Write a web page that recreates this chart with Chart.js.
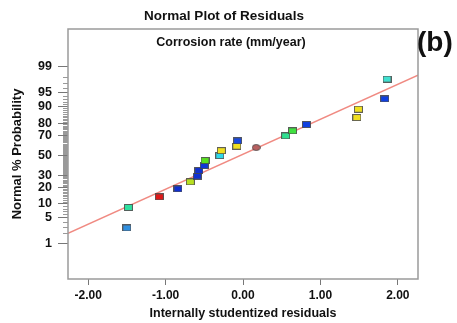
<!DOCTYPE html>
<html>
<head>
<meta charset="utf-8">
<script src="https://cdn.jsdelivr.net/npm/chart.js@4.4.0/dist/chart.umd.min.js"></script>
<style>
  body { margin: 0; background: #fff; }
  #wrap { position: relative; width: 457px; height: 323px; }
  #tag { position: absolute; left: 417px; top: 28px; font: bold 28px "Liberation Sans", Arial, sans-serif; color: #111; line-height: 1; }
</style>
</head>
<body>
<div id="wrap">
  <canvas id="chart" width="457" height="323"></canvas>
  <div id="tag">(b)</div>
</div>
<script>
// residuals (x) and normal probability in % (y)
const residuals = [-1.50, -1.48, -1.08, -0.84, -0.68, -0.59, -0.57, -0.50, -0.49, -0.30, -0.28, -0.08, -0.07, 0.17, 0.55, 0.64, 0.82, 1.47, 1.49, 1.83, 1.86];
const probability = [2.8, 8.5, 13.7, 18.8, 24.2, 29.1, 34.3, 39.2, 44.4, 49.5, 54.7, 59.3, 64.6, 57.9, 69.4, 73.8, 78.9, 83.8, 88.6, 93.0, 97.7];
const pointColors = ["#2f8fe0", "#30e0a0", "#e01818", "#1030d0", "#b8e020", "#1030d0", "#1030d0", "#1036d8", "#58e020", "#30d8e8", "#f0e020", "#f0e020", "#1848e0", "#b86060", "#30e090", "#40e040", "#1040e0", "#f0e020", "#f0e020", "#1040e0", "#40e0d0"];
const roundPoint = 13; // the brown one is an ellipse

// fitted normal line
const lineX = [-2.26, 2.26];
const lineP = [2.0, 98.2];

const yTickLabels = [1, 5, 10, 20, 30, 50, 70, 80, 90, 95, 99];
const xTickValues = [-2, -1, 0, 1, 2];

// inverse normal cdf (Acklam), used as the probability scale
function probit(p) {
  const a = [-3.969683028665376e+01, 2.209460984245205e+02, -2.759285104469687e+02, 1.383577518672690e+02, -3.066479806614716e+01, 2.506628277459239e+00];
  const b = [-5.447609879822406e+01, 1.615858368580409e+02, -1.556989798598866e+02, 6.680131188771972e+01, -1.328068155288572e+01];
  const c = [-7.784894002430293e-03, -3.223964580411365e-01, -2.400758277161838e+00, -2.549732539343734e+00, 4.374664141464968e+00, 2.938163982698783e+00];
  const d = [7.784695709041462e-03, 3.224671290700398e-01, 2.445134137142996e+00, 3.754408661907416e+00];
  const pl = 0.02425;
  let q, r;
  if (p < pl) {
    q = Math.sqrt(-2 * Math.log(p));
    return (((((c[0]*q+c[1])*q+c[2])*q+c[3])*q+c[4])*q+c[5]) / ((((d[0]*q+d[1])*q+d[2])*q+d[3])*q+1);
  }
  if (p > 1 - pl) {
    q = Math.sqrt(-2 * Math.log(1 - p));
    return -(((((c[0]*q+c[1])*q+c[2])*q+c[3])*q+c[4])*q+c[5]) / ((((d[0]*q+d[1])*q+d[2])*q+d[3])*q+1);
  }
  q = p - 0.5; r = q * q;
  return (((((a[0]*r+a[1])*r+a[2])*r+a[3])*r+a[4])*r+a[5])*q / (((((b[0]*r+b[1])*r+b[2])*r+b[3])*r+b[4])*r+1);
}

function marker(color, round) {
  const cv = document.createElement("canvas");
  cv.width = 9; cv.height = 7;
  const g = cv.getContext("2d");
  g.fillStyle = color;
  g.strokeStyle = "rgba(70,70,70,0.85)";
  g.lineWidth = 1;
  if (round) {
    g.beginPath();
    g.ellipse(4.5, 3.5, 4, 3, 0, 0, Math.PI * 2);
    g.fill(); g.stroke();
  } else {
    g.fillRect(0.5, 0.5, 8, 6);
    g.strokeRect(0.5, 0.5, 8, 6);
  }
  return cv;
}

const pts = residuals.map((x, i) => ({ x: x, y: probit(probability[i] / 100) }));
const styles = pointColors.map((c, i) => marker(c, i === roundPoint));
const linePts = lineX.map((x, i) => ({ x: x, y: probit(lineP[i] / 100) }));

const FONT = "'Liberation Sans', Arial, sans-serif";
const minorP = [];
for (let p = 1; p <= 99; p++) if (!yTickLabels.includes(p)) minorP.push(p);

const extras = {
  id: "extras",
  afterDraw(chart) {
    const ctx = chart.ctx, a = chart.chartArea, ys = chart.scales.y;
    ctx.save();
    // minor probability ticks
    ctx.strokeStyle = "#999";
    ctx.lineWidth = 1;
    ctx.beginPath();
    minorP.forEach((p) => {
      const y = Math.round(ys.getPixelForValue(probit(p / 100))) + 0.5;
      ctx.moveTo(a.left - 5, y);
      ctx.lineTo(a.left, y);
    });
    ctx.stroke();
    // frame
    ctx.strokeStyle = "#9a9a9a";
    ctx.lineWidth = 1.5;
    ctx.strokeRect(a.left, a.top, a.right - a.left, a.bottom - a.top);
    // inner heading
    ctx.fillStyle = "#111";
    ctx.font = "bold 12.5px " + FONT;
    ctx.textAlign = "center";
    ctx.textBaseline = "middle";
    ctx.fillText("Corrosion rate (mm/year)", (a.left + a.right) / 2 - 12, a.top + 14);
    ctx.restore();
  }
};

new Chart(document.getElementById("chart"), {
  type: "scatter",
  data: {
    datasets: [
      {
        data: pts,
        pointStyle: styles,
        pointRadius: 4,
        pointHoverRadius: 4,
      },
      {
        data: linePts,
        showLine: true,
        borderColor: "#f08a82",
        borderWidth: 1.5,
        pointRadius: 0,
      },
    ],
  },
  options: {
    responsive: false,
    animation: false,
    layout: { padding: { left: 0, right: 9, top: 0, bottom: 0 } },
    plugins: {
      legend: { display: false },
      tooltip: { enabled: false },
      title: {
        display: true,
        text: "Normal Plot of Residuals",
        color: "#111",
        font: { family: FONT, size: 13.5, weight: "bold" },
        padding: { top: 8, bottom: 4.8 },
      },
    },
    scales: {
      x: {
        type: "linear",
        min: -2.26,
        max: 2.26,
        afterBuildTicks: (s) => { s.ticks = xTickValues.map((v) => ({ value: v })); },
        afterFit: (s) => { s.height = 44; },
        grid: { drawOnChartArea: false, drawTicks: true, tickLength: 6, color: "#777" },
        border: { display: false },
        ticks: {
          padding: 3,
          color: "#111",
          font: { family: FONT, size: 12, weight: "bold" },
          callback: (v) => Number(v).toFixed(2),
        },
        title: {
          display: true,
          text: "Internally studentized residuals",
          color: "#111",
          font: { family: FONT, size: 12.5, weight: "bold" },
          padding: { top: 0, bottom: 2 },
        },
      },
      y: {
        type: "linear",
        min: -3.25,
        max: 3.31,
        afterBuildTicks: (s) => { s.ticks = yTickLabels.map((p) => ({ value: probit(p / 100) })); },
        afterFit: (s) => { s.width = 68; },
        grid: { drawOnChartArea: false, drawTicks: true, tickLength: 10, color: "#777" },
        border: { display: false },
        ticks: {
          padding: 6,
          color: "#111",
          font: { family: FONT, size: 12.5, weight: "bold" },
          callback: (v, i) => String(yTickLabels[i]),
        },
        title: {
          display: true,
          text: "Normal % Probability",
          color: "#111",
          font: { family: FONT, size: 13, weight: "bold" },
          padding: { top: 10, bottom: 0 },
        },
      },
      // empty right-hand gutter so the main title centres like the original
      gutter: {
        type: "linear",
        position: "right",
        display: true,
        afterFit: (s) => { s.width = 30; },
        grid: { display: false },
        border: { display: false },
        ticks: { display: false },
      },
    },
  },
  plugins: [extras],
});
</script>
</body>
</html>
